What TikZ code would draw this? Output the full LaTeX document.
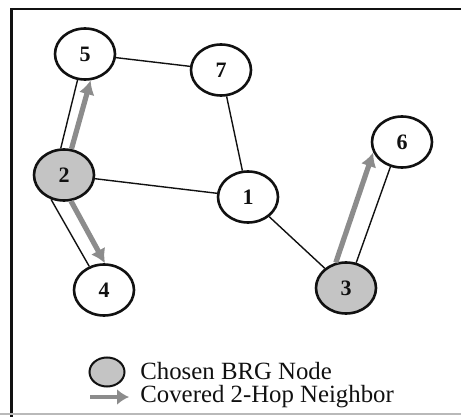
\documentclass[tikz,border=0pt]{standalone}
\usepackage{fontspec}
\setmainfont{Liberation Serif}
\usetikzlibrary{arrows.meta,shapes.geometric}
\definecolor{ink}{HTML}{111111}
\definecolor{shade}{HTML}{C4C4C4}
\definecolor{hop}{HTML}{8C8C8C}
\tikzset{site/.style={ellipse,draw=ink,line width=1.3pt,minimum width=30pt,minimum height=25.5pt,
  inner sep=0pt,font=\bfseries\fontsize{11}{13}\selectfont,text=ink},
brg/.style={site,fill=shade},
link/.style={ink,line width=0.7pt},
hoparrow/.style={hop,line width=2.6pt,-{Latex[length=7pt,width=8pt]}},
lab/.style={font=\fontsize{12.4}{14}\selectfont,text=ink,anchor=west,inner sep=0pt}}

\begin{document}
\begin{tikzpicture}[x=0.5pt,y=-0.5pt]
\useasboundingbox (0,0) rectangle (461,417);
% frame
\draw[ink,line width=1.3pt] (11.5,417) -- (11.5,9) -- (461,9);
\draw[gray!55,line width=0.6pt] (0,414) -- (461,414);
% nodes of the network
\foreach \n/\x/\y in {5/85/54,7/221/70,1/248/197,4/104/290,6/402/142}
  \node[site] (n\n) at (\x,\y) {\n};
\foreach \n/\x/\y in {2/64/175,3/346/288}
  \node[brg] (n\n) at (\x,\y) {\n};
% radio links
\foreach \a/\b in {5/7,7/1,2/1,1/3}
  \draw[link] (n\a) -- (n\b);
\draw[link] (n2.97) -- (n5.254);
\draw[link] (n2.242) -- (n4.122);
\draw[link] (n3.68) -- (n6.245);
% covered 2-hop neighbours
\draw[hoparrow] (n2.74) -- (n5.282);
\draw[hoparrow] (n2.285) -- (n4.88);
\draw[hoparrow] (n3.112) -- (n6.200);
% legend
\node[brg,minimum width=17.5pt,minimum height=14.5pt,line width=1pt] (keybrg) at (107,372) {};
\coordinate (keya) at (90,397);
\coordinate (keyb) at (129,397);
\draw[hoparrow,line width=2.2pt,-{Latex[length=6pt,width=8pt]}] (keya) -- (keyb);
\node[lab] (keytxt1) at (140,371) {Chosen BRG Node};
\node[lab] (keytxt2) at (140,397) {Covered 2-Hop Neighbor};
\end{tikzpicture}
\end{document}
